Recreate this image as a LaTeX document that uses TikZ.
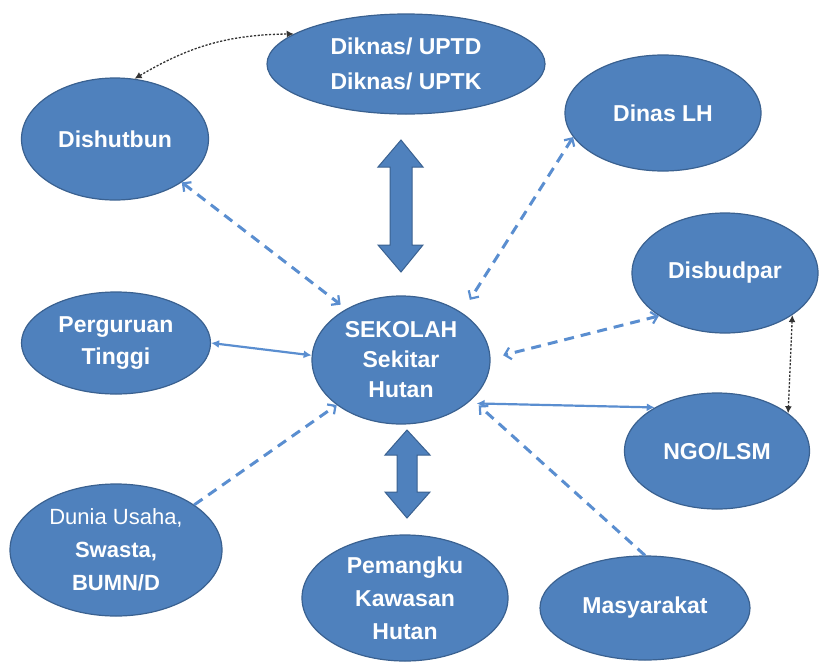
\documentclass[tikz,border=0pt]{standalone}
\usepackage{fontspec}
\setmainfont{Liberation Sans}
\usetikzlibrary{shapes.geometric,arrows.meta}
\definecolor{fillblue}{HTML}{4F81BD}
\definecolor{edgeblue}{HTML}{3A6190}
\definecolor{lineblue}{HTML}{5A8ED0}
\begin{document}
\begin{tikzpicture}[x=1pt,y=-1pt,
  ell/.style={ellipse, fill=fillblue, draw=edgeblue, line width=1.2pt, inner sep=0pt,
    text=white, font=\bfseries\fontsize{23}{32}\selectfont, align=center},
  dashlink/.style={draw=lineblue, line width=3pt, dash pattern=on 10pt off 7pt,
    {Straight Barb[length=6pt,width=12pt,line width=2.2pt]}-{Straight Barb[length=6pt,width=12pt,line width=2.2pt]}},
  dashto/.style={draw=lineblue, line width=3pt, dash pattern=on 10pt off 7pt,
    -{Straight Barb[length=6pt,width=12pt,line width=2.2pt]}},
  solidlink/.style={draw=lineblue, line width=2.2pt, {Latex[length=8pt,width=8pt]}-{Latex[length=8pt,width=8pt]}},
  dotlink/.style={draw=black!80, line width=1.3pt, dash pattern=on 2.2pt off 1.6pt,
    {Latex[length=7pt,width=7pt]}-{Latex[length=7pt,width=7pt]}},
  blockarr/.style={fill=fillblue, draw=edgeblue, line width=1pt, line join=miter}
]
\useasboundingbox (0,0) rectangle (819,662);

\node[ell, minimum width=278pt, minimum height=100pt, font=\bfseries\fontsize{23}{35}\selectfont] (dik) at (406,64) {Diknas/ UPTD\\Diknas/ UPTK};
\node[ell, minimum width=187pt, minimum height=122pt] (dsh) at (115,139) {Dishutbun};
\node[ell, minimum width=196pt, minimum height=116pt] (dlh) at (663,113) {Dinas LH};
\node[ell, minimum width=186pt, minimum height=120pt] (dbp) at (725,273) {Disbudpar};
\node[ell, minimum width=189pt, minimum height=102pt] (pt) at (116,343) {Perguruan\\Tinggi};
\node[ell, minimum width=178pt, minimum height=128pt, font=\bfseries\fontsize{23}{30}\selectfont] (sek) at (401,360) {SEKOLAH\\Sekitar\\Hutan};
\node[ell, minimum width=185pt, minimum height=116pt] (ngo) at (717,451) {NGO/LSM};
\node[ell, minimum width=212pt, minimum height=132pt, font=\bfseries\fontsize{22}{33}\selectfont] (dun) at (116,550) {{\mdseries Dunia Usaha,}\\Swasta,\\BUMN/D};
\node[ell, minimum width=206pt, minimum height=126pt, font=\bfseries\fontsize{23}{33}\selectfont] (pem) at (405,598) {Pemangku\\Kawasan\\Hutan};
\node[ell, minimum width=210pt, minimum height=104pt] (mas) at (645,608) {Masyarakat};

% block arrows
\draw[blockarr] (401,140) -- (423,167) -- (412,167) -- (412,245) -- (423,245) -- (401,272)
  -- (378,245) -- (390,245) -- (390,167) -- (378,167) -- cycle;
\draw[blockarr] (407,430) -- (430,455) -- (417,455) -- (417,492) -- (430,492) -- (407,518)
  -- (385,492) -- (397,492) -- (397,455) -- (385,455) -- cycle;

% connectors
\draw[dashlink, shorten >=7pt] (dsh.-33) -- (sek.137);
\draw[dashlink, shorten >=15pt] (dlh.195) -- (sek.38);
\draw[dashlink, shorten >=13pt] (dbp.213) -- (sek.1);
\draw[solidlink] (pt.0) -- (sek.177);
\draw[solidlink, shorten >=9pt] (ngo.145) -- (sek.-33);
\draw[dashto] (dun.30) -- (sek.215);
\draw[dashto, shorten >=9pt] (mas.90) -- (sek.-29);
\draw[dotlink] (dsh.72) to[bend left=15] (dik.165);
\draw[dotlink] (dbp.-32) -- (ngo.28);
\end{tikzpicture}
\end{document}
